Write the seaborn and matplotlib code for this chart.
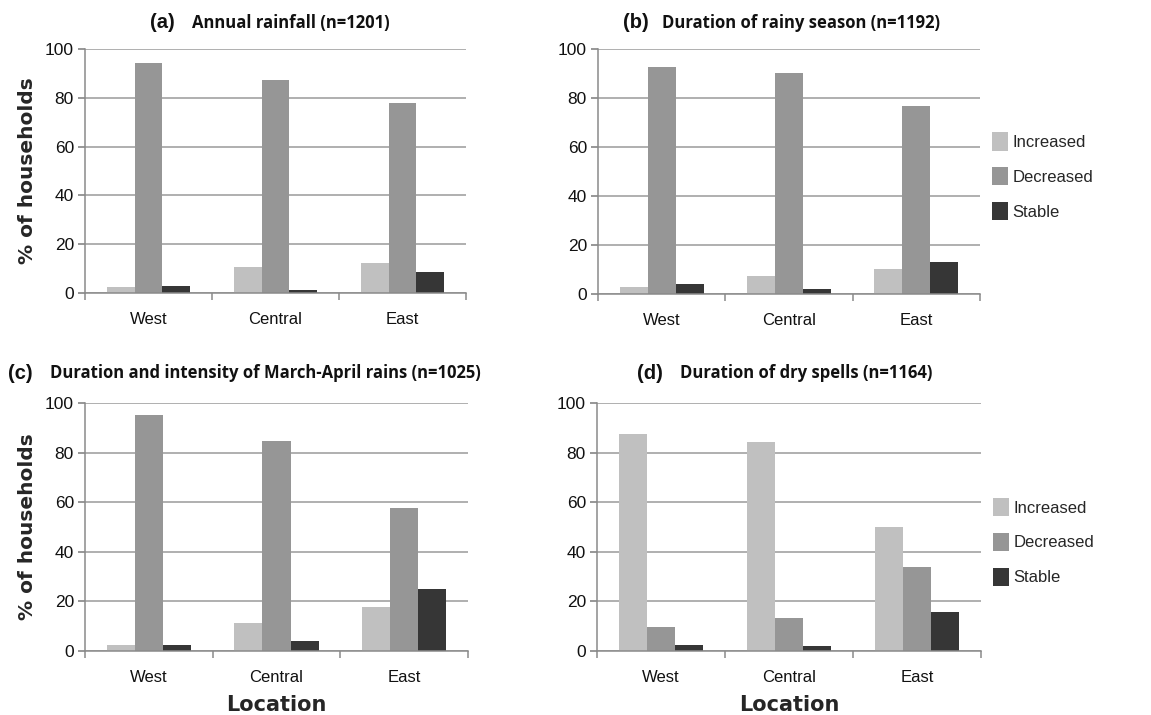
import matplotlib
matplotlib.use("Agg")
import matplotlib.pyplot as plt
import seaborn as sns
import pandas as pd

locations = ["West", "Central", "East"]
responses = ["Increased", "Decreased", "Stable"]

# values per panel: [Increased, Decreased, Stable] for West, Central, East
a_increased = [2.5, 10.7, 12.3]
a_decreased = [94.3, 87.4, 77.9]
a_stable = [3.0, 1.2, 8.5]

b_increased = [3.0, 7.3, 10.1]
b_decreased = [92.5, 90.4, 76.9]
b_stable = [3.9, 1.9, 12.9]

c_increased = [2.4, 11.3, 17.9]
c_decreased = [95.1, 84.8, 57.5]
c_stable = [2.6, 4.2, 25.2]

d_increased = [87.5, 84.1, 49.9]
d_decreased = [9.7, 13.5, 34.0]
d_stable = [2.6, 1.9, 15.8]

titles_tag = ["(a)", "(b)", "(c)", "(d)"]
titles_text = ["Annual rainfall (n=1201)",
               "Duration of rainy season (n=1192)",
               "Duration and intensity of March-April rains (n=1025)",
               "Duration of dry spells (n=1164)"]

panels = [
    (a_increased, a_decreased, a_stable),
    (b_increased, b_decreased, b_stable),
    (c_increased, c_decreased, c_stable),
    (d_increased, d_decreased, d_stable),
]

colors = ["#c0c0c0", "#969696", "#363636"]

sns.set_theme(style="white")
plt.rcParams['font.family'] = ['Liberation Sans', 'DejaVu Sans']

W, H = 1151, 715
fig = plt.figure(figsize=(W / 100, H / 100), dpi=100)

# axes rects in pixels: left, top, right, bottom
rects = [(85, 49, 466, 293), (598, 49, 980, 294),
         (85, 403, 468, 651), (597, 403, 981, 651)]
title_pos = [(150, 23), (623, 23), (8, 373), (637, 373)]
title_off = [42, 39, 42, 43]
legend_y = [None, 0.48, None, 0.44]

for i, (vals, rect, tp) in enumerate(zip(panels, rects, title_pos)):
    l, t, r, b = rect
    ax = fig.add_axes([l / W, 1 - b / H, (r - l) / W, (b - t) / H])
    rows = []
    for resp, series in zip(responses, vals):
        for loc, v in zip(locations, series):
            rows.append({"Location": loc, "Response": resp, "Value": v})
    df = pd.DataFrame(rows)
    sns.barplot(data=df, x="Location", y="Value", hue="Response",
                order=locations, hue_order=responses, palette=colors,
                width=0.66, gap=0, saturation=1, ax=ax, legend=(i in (1, 3)),
                edgecolor="none", linewidth=0)
    ax.set_ylim(0, 100)
    ax.set_xlim(-0.5, 2.5)
    ax.set_yticks([0, 20, 40, 60, 80, 100])
    ax.yaxis.grid(True, color="#9a9a9a", linewidth=1.1)
    ax.set_axisbelow(True)
    for s in ["top", "right"]:
        ax.spines[s].set_visible(False)
    for s in ["left", "bottom"]:
        ax.spines[s].set_color("#8a8a8a")
        ax.spines[s].set_linewidth(1.1)
    ax.tick_params(axis="y", which="major", left=True, length=5, color="#8a8a8a",
                   labelsize=12.5, labelcolor="#111111", pad=3)
    ax.tick_params(axis="x", which="major", bottom=False, labelsize=12,
                   labelcolor="#111111", pad=8)
    ax.set_xticks([-0.5, 0.5, 1.5, 2.5], minor=True)
    ax.tick_params(axis="x", which="minor", bottom=True, length=5,
                   color="#8a8a8a", width=1.1)
    if i in (0, 2):
        ax.set_ylabel("% of households", fontsize=14.5, fontweight="bold",
                      family=["DejaVu Sans"], labelpad=6)
    else:
        ax.set_ylabel("")
    if i in (2, 3):
        ax.set_xlabel("Location", fontsize=15, fontweight="bold",
                      family=["DejaVu Sans"], labelpad=7)
    else:
        ax.set_xlabel("")
    if i in (1, 3):
        ax.legend(loc="center left", bbox_to_anchor=(1.0, legend_y[i]),
                  frameon=False, fontsize=12, handlelength=1.0,
                  handleheight=1.3, handletextpad=0.25, labelspacing=1.0,
                  borderaxespad=0.3)
    fig.text(tp[0] / W, 1 - tp[1] / H, titles_tag[i], fontsize=14.5,
             fontweight="bold", va="center", ha="left", color="#111111")
    fig.text((tp[0] + title_off[i]) / W, 1 - tp[1] / H, titles_text[i], fontsize=12.0,
             fontweight="bold", va="center", ha="left", color="#111111",
             family=["Open Sans", "DejaVu Sans"])

fig.savefig("out.png", dpi=100)
